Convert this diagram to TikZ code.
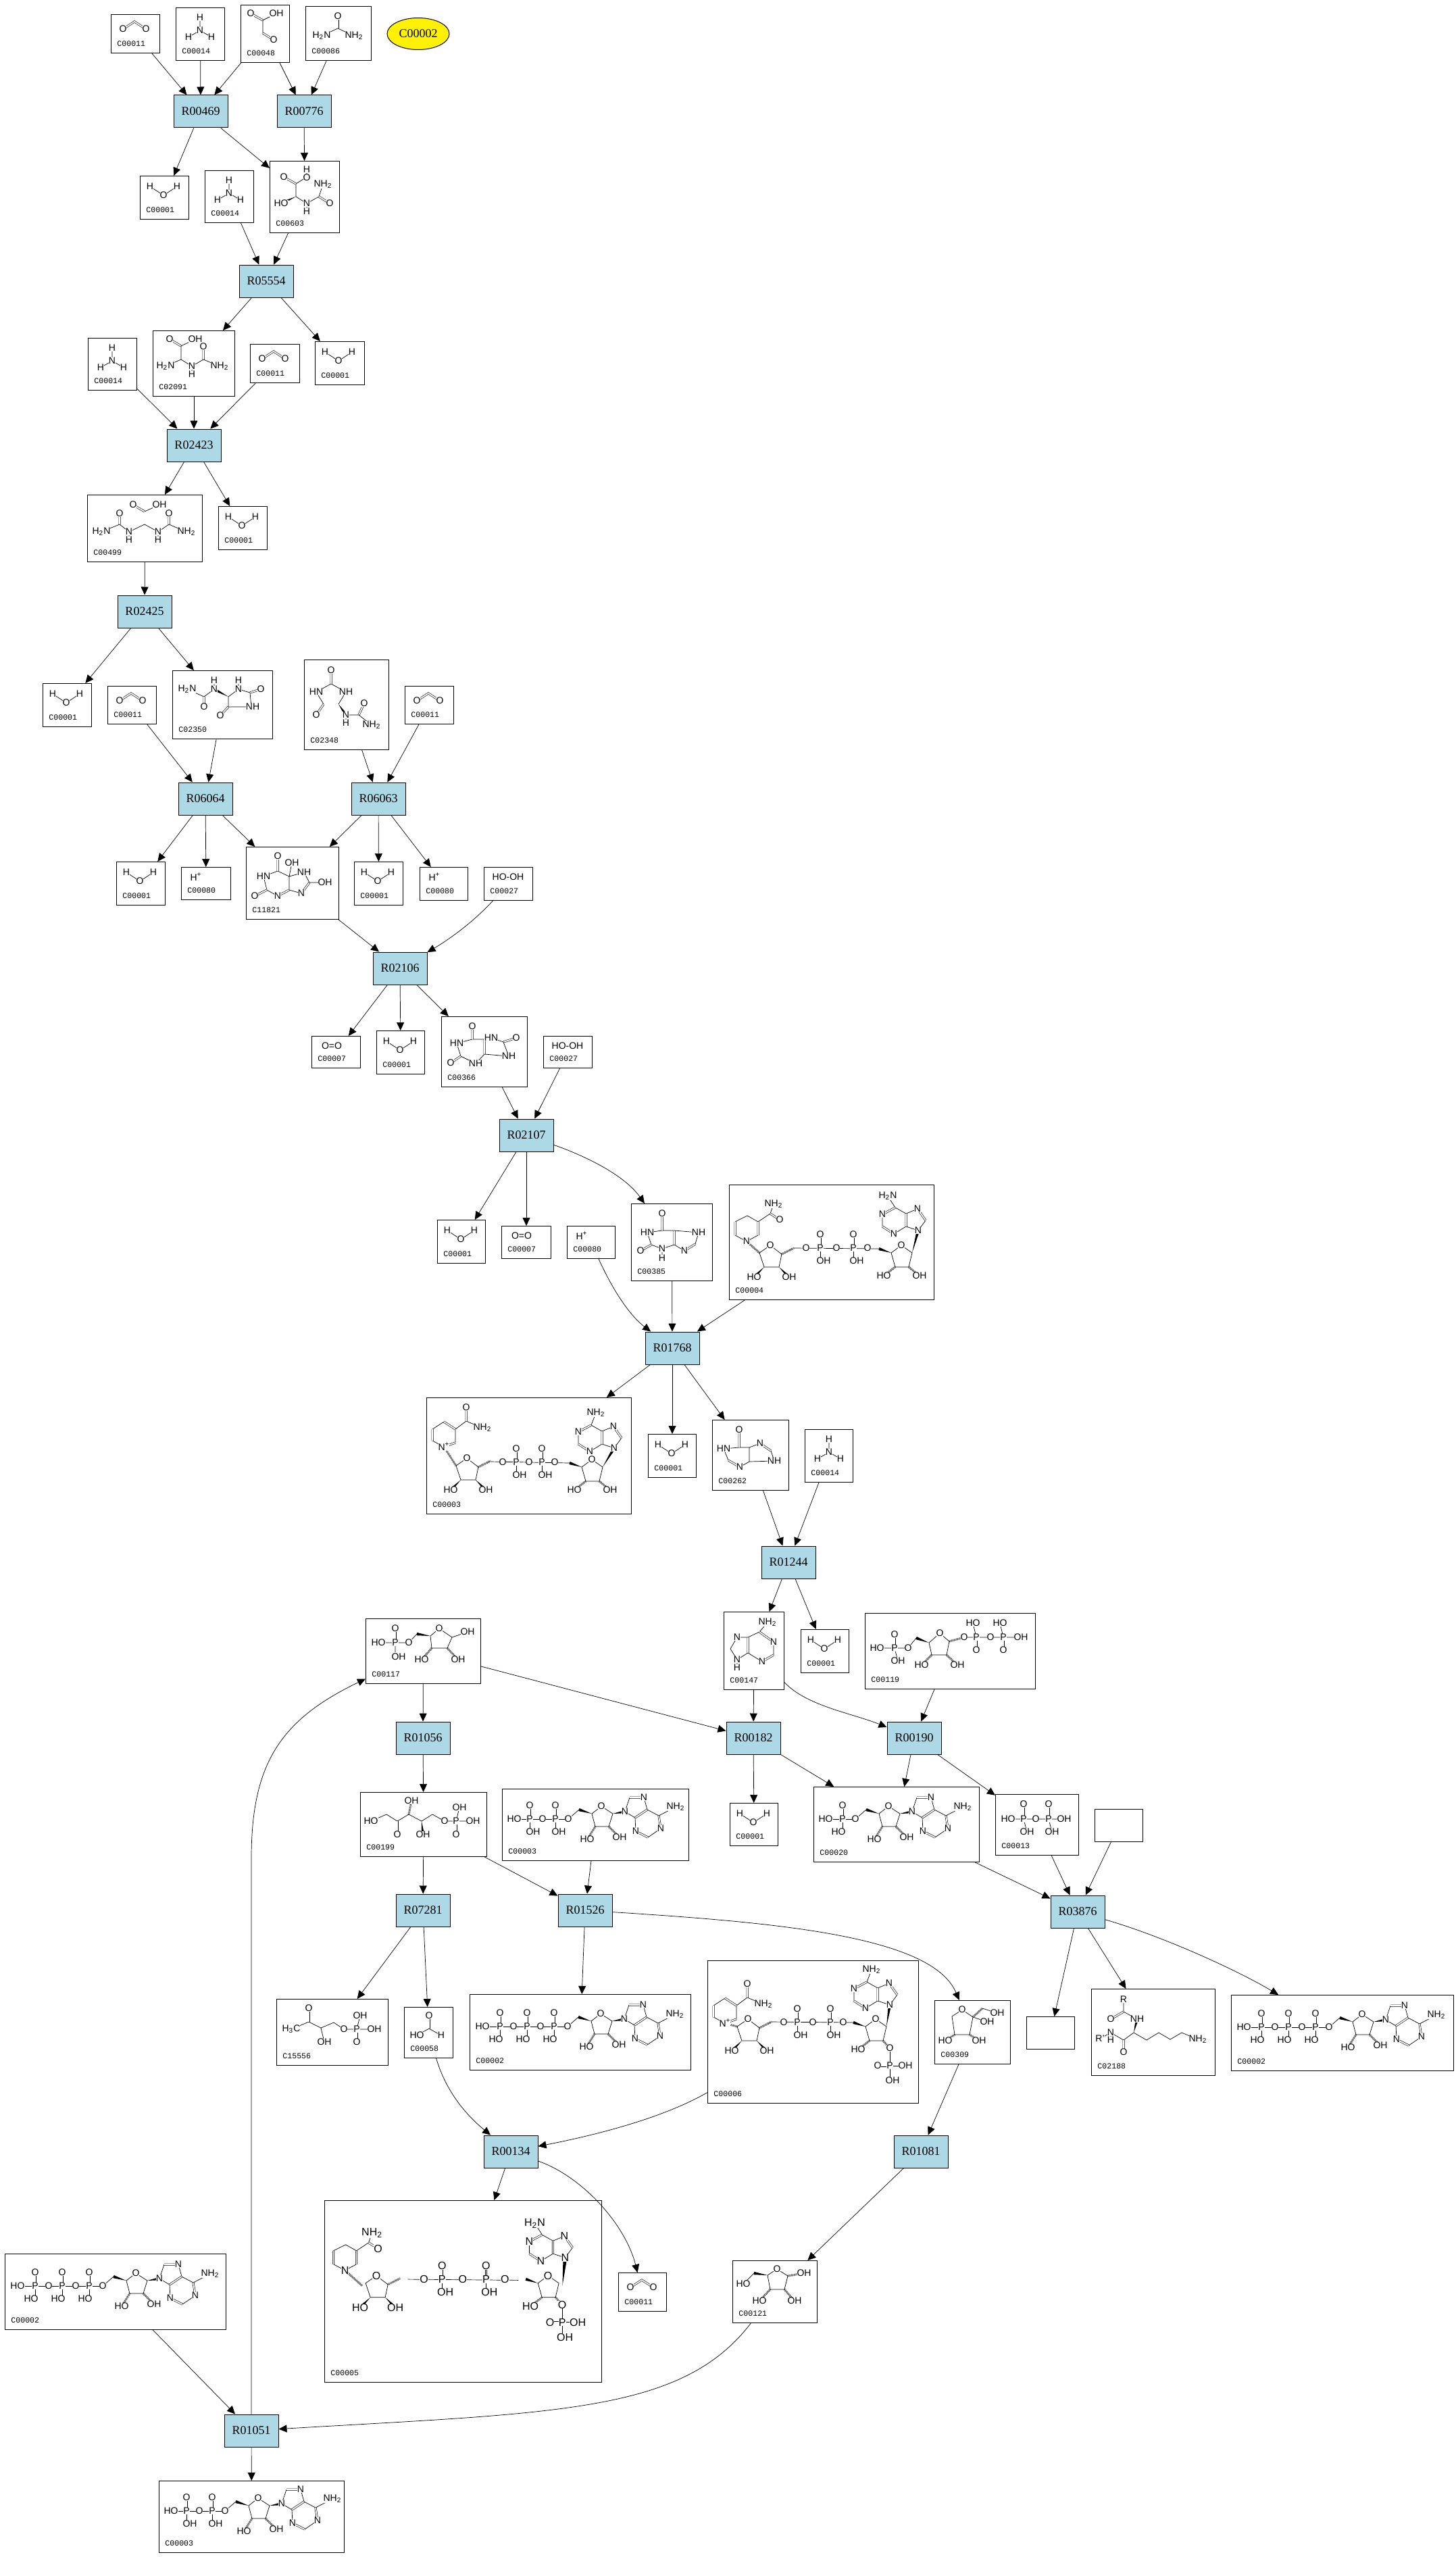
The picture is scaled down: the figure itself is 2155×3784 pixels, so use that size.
\documentclass[tikz,border=0pt]{standalone}
\usepackage{fontspec}
\setmainfont{Liberation Serif}
\setsansfont{Liberation Sans}
\setmonofont{Liberation Mono}
\usetikzlibrary{arrows.meta,calc,shapes.geometric}

\definecolor{rxnblue}{HTML}{ADD8E6}
\newcommand{\two}{\textsubscript{2}}
\newcommand{\atoms}[1]{\foreach \ax/\ay/\atxt in {#1}{\node[atm] (a\ax-\ay) at (\ax,\ay) {\atxt};}}
\newcommand{\wdg}[2]{\fill (#1) -- ($(#2)!1.1pt!90:(#1)$) -- ($(#2)!1.1pt!-90:(#1)$) -- cycle;}
\newcommand{\cboxat}[5]{\node[cbox,minimum width={(#4-#2)*.5pt},minimum height={(#5-#3)*.5pt}] (#1) at (#2,#3) {};}
\newcommand{\cmpd}[8][]{\cboxat{#2}{#3}{#4}{#5}{#6}
    \node[cid] (#2l) at ([shift={(9,-14.5)}]#2.south west) {#7};
    \pic[#1] at (#2.north west) {#8};}

\tikzset{
    atm/.style={font=\fontsize{7}{8}\selectfont\sffamily, fill=white, inner sep=0pt},
    bond/.style={line width=.35pt},
    dbl/.style={line width=.3pt, double, double distance=.9pt},
    hsh/.style={line width=1.5pt, dash pattern=on .35pt off .55pt},
    water/.pic={
        \draw[bond] (15,16) -- (35,29) -- (55,16);
        \atoms{15/16/H,35/29/O,55/16/H}
    },
    cotwo/.pic={
        \draw[dbl] (18,22) -- (35,11) -- (52,22);
        \atoms{18/22/O,52/22/O}
    },
    nhthree/.pic={
        \draw[bond] (36,15) -- (36,34) (19,44) -- (36,34) -- (53,44);
        \atoms{36/15/H,36/34/N,19/44/H,53/44/H}
    },
    hplus/.pic={\atoms{22/15/H\textsuperscript{+}}},
    oxy/.pic={\atoms{30/15/O=O}},
    perox/.pic={\atoms{36/15/HO-OH}},
    glyox/.pic={
        \draw[dbl] (15,13) -- (33,23) (33,42) -- (49,52);
        \draw[bond] (53,13) -- (33,23) -- (33,42);
        \atoms{15/13/O,53/13/OH,49/52/O}
    },
    urea/.pic={
        \draw[dbl] (48,15) -- (48,33);
        \draw[bond] (24,44) -- (48,33) -- (72,44);
        \atoms{48/15/O,24/44/H\two N,72/44/NH\two}
    },
    allant/.pic={
        \draw[bond] (55,13) -- (55,24) -- (39,34) -- (39,53) -- (55,63) -- (55,75) (55,63) -- (73,53) -- (79,35);
        \draw[dbl] (21,24) -- (39,34) (73,53) -- (89,63);
        \wdg{39,53}{17,63}
        \atoms{55/13/H,55/25/O,21/24/O,79/35/NH\two,17/63/HO,55/63/N,55/75/H,89/63/O}
    },
    ureidogly/.pic={
        \draw[dbl] (25,13) -- (42,23) (75,24) -- (75,43);
        \draw[bond] (63,13) -- (42,23) -- (42,43) -- (19,53) (42,43) -- (58,53) -- (58,64) (58,53) -- (75,43) -- (99,53);
        \atoms{25/13/O,63/13/OH,19/53/H\two N,58/53/N,58/65/H,75/24/O,99/53/NH\two}
    },
    diurea/.pic={
        \draw[dbl] (68,15) -- (85,25) (48,28) -- (48,44) (121,28) -- (121,44);
        \draw[bond] (107,15) -- (85,25);
        \draw[bond] (21,55) -- (48,44) -- (62,55) -- (85,44) -- (105,55) -- (121,44) -- (147,55) (62,55) -- (62,67) (105,55) -- (105,67);
        \atoms{68/15/O,107/15/OH,48/28/O,121/28/O,21/55/H\two N,62/55/N,62/67/H,105/55/N,105/67/H,147/55/NH\two}
    },
    hydant/.pic={
        \draw[bond] (22,28) -- (47,39) -- (62,28) -- (62,15);
        \draw[dbl] (47,39) -- (47,54) (115,33) -- (131,28) (83,54) -- (71,67);
        \wdg{83,39}{62,28}
        \draw[bond] (83,39) -- (98,28) -- (115,33) -- (117,54) -- (83,54) -- cycle (98,28) -- (98,15);
        \atoms{22/28/H\two N,47/54/O,62/28/N,62/15/H,98/28/N,98/15/H,131/28/O,119/54/NH,71/67/O}
    },
    oxoure/.pic={
        \draw[bond] (29,66) -- (18,48) -- (40,36) -- (62,48) -- (51,66);
        \draw[dbl] (40,16) -- (40,36) (29,66) -- (18,82) (81,82) -- (89,65);
        \wdg{51,66}{62,82}
        \draw[bond] (62,93) -- (62,82) -- (81,82) -- (100,97);
        \atoms{40/16/O,18/48/HN,62/48/NH,18/82/O,62/82/N,62/94/H,89/65/O,100/97/NH\two}
    },
    hydroxy/.pic={
        \draw[bond] (64,64) -- (64,44) -- (47,36) -- (26,44) -- (31,64) -- (47,73);
        \draw[dbl] (47,14) -- (47,36) (13,73) -- (31,64) (47,73) -- (64,64) (94,53) -- (82,69);
        \draw[bond] (68,24) -- (64,44) -- (86,38) -- (94,53) -- (117,53) (82,69) -- (64,64);
        \atoms{47/14/O,68/24/OH,26/44/HN,86/38/NH,117/53/OH,13/73/O,47/73/N,82/69/N}
    },
    urate/.pic={
        \draw[bond] (64,34) -- (46,34) -- (23,40) -- (29,59) -- (51,70) -- (64,56);
        \draw[dbl] (46,15) -- (46,34) (14,69) -- (29,59) (64,56) -- (64,34) (92,38) -- (111,32);
        \draw[bond] (64,34) -- (74,32) -- (92,38) -- (100,59) -- (64,56);
        \atoms{46/15/O,23/40/HN,14/69/O,51/70/NH,74/32/HN,111/32/O,100/59/NH}
    },
    xanth/.pic={
        \draw[bond] (64,40) -- (46,40) -- (24,43) -- (30,61) -- (46,67) -- (64,61) (46,67) -- (46,81);
        \draw[dbl] (46,15) -- (46,40) (14,70) -- (30,61) (64,61) -- (64,40) (95,60) -- (79,70);
        \draw[bond] (64,40) -- (100,43) -- (95,60) (79,70) -- (64,61);
        \atoms{46/15/O,24/43/HN,14/70/O,46/67/N,46/81/H,100/43/NH,79/70/N}
    },
    hypox/.pic={
        \draw[bond] (55,41) -- (40,41) -- (17,43) -- (24,60) (41,70) -- (55,62);
        \draw[dbl] (40,15) -- (40,41) (24,60) -- (41,70) (71,35) -- (87,46);
        \draw[bond] (55,62) -- (55,41) -- (71,35) (87,46) -- (92,61) -- (55,62);
        \atoms{40/15/O,17/43/HN,41/70/N,71/35/N,92/61/NH}
    },
    adenine/.pic={
        \draw[bond] (65,16) -- (53,30) -- (36,38) (36,61) -- (57,74) (74,45) -- (74,64);
        \draw[dbl] (53,30) -- (74,45) (74,64) -- (57,74) (36,38) -- (36,61);
        \draw[bond] (36,38) -- (20,38) -- (10,55) -- (20,71) -- (36,61) (20,71) -- (20,82);
        \atoms{65/16/NH\two,74/45/N,57/74/N,20/38/N,20/71/N,20/83/H}
    },
    phosl/.pic={
        \draw[dbl] (0,-20) -- (0,0);
        \draw[bond] (0,0) -- (0,15);
        \atoms{0/-20/O,0/0/P,-6/19/HO}
    },
    phosr/.pic={
        \draw[dbl] (0,-20) -- (0,0);
        \draw[bond] (0,0) -- (0,15);
        \atoms{0/-20/O,0/0/P,5/19/OH}
    },
    adenosine/.pic={
        \draw[bond] (0,0) -- (16,-14);
        \wdg{35,-8}{16,-14}
        \draw[bond] (35,-8) -- (49,-19) -- (66,-8) -- (60,11) -- (40,11) -- cycle;
        \draw[hsh] (40,11) -- (28,30) (60,11) -- (76,27);
        \wdg{66,-8}{84,-11}
        \draw[bond] (84,-11) -- (91,-32) (112,-32) -- (117,-14) (99,-2) -- (84,-11);
        \draw[dbl] (91,-32) -- (112,-32) (117,-14) -- (99,-2) (134,-5) -- (137,14) (100,18) -- (118,27);
        \draw[bond] (117,-14) -- (134,-5) -- (159,-18) (137,14) -- (118,27) (100,18) -- (99,-2);
        \atoms{0/0/O,49/-19/O,28/30/HO,76/27/OH,84/-11/N,112/-32/N,100/18/N,137/14/N,159/-18/NH\two}
    },
    atp/.pic={
        \draw[bond] (19,48) -- (145,48);
        \foreach \px in {45,85,125} {\pic at (\px,48) {phosl};}
        \pic at (145,48) {adenosine};
        \atoms{19/48/HO,65/48/O,105/48/O}
    },
    adp/.pic={
        \draw[bond] (18,45) -- (98,45);
        \foreach \px in {41,79} {\pic at (\px,45) {phosr};}
        \pic at (98,45) {adenosine};
        \atoms{18/45/HO,60/45/O}
    },
    amp/.pic={
        \draw[bond] (18,48) -- (62,48);
        \pic at (43,48) {phosl};
        \pic at (62,48) {adenosine};
        \atoms{18/48/HO}
    },
    nicrib/.pic={
        \draw[bond] (-16,11) -- (0,0) -- (17,13) -- (13,32) -- (-9,32) -- cycle;
        \wdg{-9,32}{-24,47}
        \wdg{13,32}{28,47}
        \draw[hsh] (17,13) -- (35,4);
        \atoms{0/0/O,-24/47/HO,28/47/OH}
    },
    nicred/.pic={
        \draw[bond] (-17,-9) -- (0,0) -- (17,-9) (17,-29) -- (1,-38) -- (-17,-29) (17,-29) -- (35,-41) -- (40,-55);
        \draw[dbl] (17,-9) -- (17,-29) (-17,-29) -- (-17,-9) (35,-41) -- (49,-32);
        \atoms{0/0/N,40/-55/NH\two,49/-32/O}
    },
    nicox/.pic={
        \draw[bond] (-17,-9) -- (0,0) (17,-6) -- (17,-26) (0,-37) -- (-17,-26) (17,-26) -- (33,-38) -- (57,-28);
        \draw[dbl] (0,0) -- (17,-6) (17,-26) -- (0,-37) (-17,-26) -- (-17,-9) (33,-38) -- (33,-58);
        \atoms{0/0/N\textsuperscript{+},33/-58/O,57/-28/NH\two}
    },
    ribade/.pic={
        \wdg{-15,11}{-33,5}
        \draw[bond] (-15,11) -- (0,0) -- (16,11) -- (11,32) -- (-9,32) -- cycle;
        \draw[hsh] (-9,32) -- (-26,45);
        \atoms{0/0/O,-26/45/HO}
    },
    riboh/.pic={
        \pic {ribade};
        \draw[hsh] (11,32) -- (27,45);
        \atoms{27/45/OH}
    },
    riboph/.pic={
        \pic {ribade};
        \draw[hsh] (11,32) -- (21,43);
        \draw[bond] (21,43) -- (21,91) (21,69) -- (44,69);
        \draw[dbl] (3,69) -- (21,69);
        \atoms{21/43/O,21/69/P,3/69/O,44/69/OH,25/91/OH}
    },
    adenub/.pic={
        \draw[bond] (0,0) -- (11,-15) (-1,-32) -- (-18,-25) (-18,-6) -- (0,0) (-18,-6) -- (-36,5) (-53,-6) -- (-53,-24) (-34,-34) -- (-18,-25);
        \draw[dbl] (11,-15) -- (-1,-32) (-18,-25) -- (-18,-6) (-36,5) -- (-53,-6) (-53,-24) -- (-34,-34);
        \atoms{0/0/N,-1/-32/N,-36/5/N,-53/-24/N}
    },
    adenha/.pic={
        \draw[bond] (-34,-34) -- (-45,-51);
        \pic {adenub};
        \atoms{-45/-51/H\two N}
    },
    adenhb/.pic={
        \draw[bond] (-34,-34) -- (-27,-52);
        \pic {adenub};
        \atoms{-27/-52/NH\two}
    },
    nadh/.pic={
        \draw[hsh] (45,101) -- (26,84);
        \pic at (26,84) {nicred};
        \pic at (61,90) {nicrib};
        \draw[bond] (96,94) -- (222,95);
        \foreach \px in {135,184} {\pic at (\px,94) {phosr};}
        \pic at (255,90) {riboh};
        \wdg{271,101}{280,68}
        \pic at (280,68) {adenha};
        \atoms{114/94/O,159/94/O,205/94/O}
    },
    nad/.pic={
        \draw[hsh] (44,101) -- (26,73);
        \pic at (26,73) {nicox};
        \pic at (60,90) {nicrib};
        \draw[bond] (95,95) -- (212,97);
        \foreach \px in {133,171} {\pic at (\px,96) {phosr};}
        \pic at (245,92) {riboh};
        \wdg{261,103}{278,75}
        \pic at (278,75) {adenhb};
        \atoms{113/96/O,152/96/O,190/96/O}
    },
    nadp/.pic={
        \draw[hsh] (44,98) -- (26,93);
        \pic at (26,93) {nicox};
        \pic at (60,87) {nicrib};
        \draw[bond] (95,91) -- (216,92);
        \foreach \px in {133,182} {\pic at (\px,92) {phosr};}
        \pic at (249,87) {riboph};
        \wdg{265,98}{270,66}
        \pic at (270,66) {adenhb};
        \atoms{113/92/O,156/92/O,201/92/O}
    },
    nadph/.pic={
        \draw[hsh] (42,95) -- (23,78);
        \pic at (23,78) {nicred};
        \pic at (58,84) {nicrib};
        \draw[bond] (93,88) -- (216,89);
        \foreach \px in {131,180} {\pic at (\px,88) {phosr};}
        \pic at (249,84) {riboph};
        \wdg{265,95}{268,64}
        \pic at (268,64) {adenha};
        \atoms{111/88/O,154/88/O,201/88/O}
    },
    ribfive/.pic={
        \draw[bond] (19,36) -- (64,36) -- (76,23) (44,36) -- (44,50);
        \draw[dbl] (44,15) -- (44,36);
        \wdg{96,26}{76,23}
        \draw[bond] (96,26) -- (109,15) -- (128,28) -- (121,44) -- (98,44) -- cycle (128,28) -- (151,20);
        \draw[hsh] (98,44) -- (83,61) (121,44) -- (137,61);
        \atoms{19/36/HO,44/36/P,44/15/O,49/57/OH,64/36/O,109/15/O,83/61/HO,137/61/OH,151/20/OH}
    },
    prpp/.pic={
        \draw[bond] (18,52) -- (64,52) -- (76,37) (44,52) -- (49,71);
        \draw[dbl] (44,32) -- (44,52);
        \wdg{95,44}{76,37}
        \draw[bond] (95,44) -- (111,30) -- (125,42) -- (121,62) -- (99,62) -- cycle;
        \draw[hsh] (99,62) -- (84,77) (121,62) -- (137,77) (125,42) -- (147,36);
        \draw[bond] (147,36) -- (231,36) (165,36) -- (160,15) (205,36) -- (200,15);
        \draw[dbl] (165,36) -- (165,55) (205,36) -- (205,55);
        \atoms{18/52/HO,44/52/P,44/32/O,49/71/OH,64/52/O,111/30/O,84/77/HO,137/77/OH,147/36/O,165/36/P,160/15/HO,165/55/O,186/36/O,205/36/P,200/15/HO,205/55/O,231/36/OH}
    },
    rubu/.pic={
        \draw[bond] (16,43) -- (39,33) -- (55,43) -- (72,33) -- (91,43) -- (107,33) -- (125,43) -- (167,43) (142,43) -- (147,23);
        \draw[dbl] (55,43) -- (55,63) (142,43) -- (142,63);
        \draw[hsh] (72,33) -- (76,13);
        \wdg{91,43}{93,63}
        \atoms{16/43/HO,55/63/O,76/13/OH,93/63/OH,125/43/O,142/43/P,147/23/OH,142/63/O,167/43/OH}
    },
    ppi/.pic={
        \draw[bond] (19,37) -- (102,37) (42,37) -- (47,56) (79,37) -- (84,56);
        \draw[dbl] (42,15) -- (42,37) (79,15) -- (79,37);
        \atoms{42/15/O,42/37/P,19/37/HO,47/56/OH,60/37/O,79/37/P,79/15/O,102/37/OH,84/56/OH}
    },
    ribul/.pic={
        \draw[bond] (41,14) -- (57,25) -- (52,51) -- (30,51) -- (26,24) -- cycle (71,12) -- (93,19) (57,25) -- (78,32);
        \draw[hsh] (57,25) -- (71,12) (30,51) -- (16,60) (52,51) -- (66,60);
        \atoms{41/14/O,93/19/OH,78/32/OH,16/60/HO,66/60/OH}
    },
    ribo/.pic={
        \draw[bond] (66,13) -- (82,23) -- (77,43) -- (56,43) -- (52,22) -- cycle (32,19) -- (16,35);
        \wdg{52,22}{32,19}
        \draw[hsh] (82,23) -- (106,19) (56,43) -- (40,60) (77,43) -- (92,60);
        \atoms{66/13/O,106/19/OH,16/35/HO,40/60/HO,92/60/OH}
    },
    lysine/.pic={
        \draw[bond] (48,16) -- (48,34) -- (68,45) (63,65) -- (48,76) -- (29,65) -- (13,74) (29,65) -- (29,76);
        \wdg{63,65}{68,45}
        \draw[dbl] (48,34) -- (29,45) (48,76) -- (48,94);
        \draw[bond] (63,65) -- (82,76) -- (100,65) -- (117,75) -- (134,65) -- (158,75);
        \atoms{48/16/R,29/45/O,68/45/NH,29/65/N,29/76/H,13/74/R',48/94/O,158/75/NH\two}
    },
    methyl/.pic={
        \draw[bond] (22,45) -- (48,34) -- (66,43) -- (85,35) -- (100,45) -- (145,45) (66,43) -- (71,64) (119,45) -- (124,25);
        \draw[dbl] (48,14) -- (48,34) (119,45) -- (119,64);
        \atoms{22/45/H\textsubscript{3}C,48/14/O,71/64/OH,100/45/O,119/45/P,124/25/OH,119/64/O,145/45/OH}
    },
    formate/.pic={
        \draw[dbl] (37,13) -- (37,32);
        \draw[bond] (19,42) -- (37,32) -- (55,42);
        \atoms{37/13/O,19/42/HO,55/42/H}
    }
}

\begin{document}
\begin{tikzpicture}[x=.5pt,y=-.5pt,
            rxn/.style={draw, fill=rxnblue, line width=.5pt, minimum width=40pt, minimum height=24pt, inner sep=0pt, font=\fontsize{9}{10}\selectfont},
            cbox/.style={draw, fill=white, line width=.5pt, anchor=north west, inner sep=0pt},
            cid/.style={anchor=west, inner sep=0pt, font=\fontsize{5.8}{7}\selectfont\ttfamily},
            arr/.style={-{Triangle[length=6pt,width=5.5pt]}, line width=.35pt}]

    \useasboundingbox (0,0) rectangle (2155,3784);

    \node[rxn] (r00469) at (297,165) {R00469};
    \node[rxn] (r00776) at (450,165) {R00776};
    \node[rxn] (r05554) at (394,416) {R05554};
    \node[rxn] (r02423) at (287,659) {R02423};
    \node[rxn] (r02425) at (214,905) {R02425};
    \node[rxn] (r06064) at (304,1182) {R06064};
    \node[rxn] (r06063) at (560,1182) {R06063};
    \node[rxn] (r02106) at (592,1433) {R02106};
    \node[rxn] (r02107) at (779,1680) {R02107};
    \node[rxn] (r01768) at (995,1995) {R01768};
    \node[rxn] (r01244) at (1167,2312) {R01244};
    \node[rxn] (r01056) at (626,2572) {R01056};
    \node[rxn] (r00182) at (1115,2572) {R00182};
    \node[rxn] (r00190) at (1353,2572) {R00190};
    \node[rxn] (r07281) at (626,2827) {R07281};
    \node[rxn] (r01526) at (866,2827) {R01526};
    \node[rxn] (r03876) at (1595,2829) {R03876};
    \node[rxn] (r00134) at (756,3184) {R00134};
    \node[rxn] (r01081) at (1363,3184) {R01081};
    \node[rxn] (r01051) at (372,3597) {R01051};

    \node[ellipse, draw, fill=yellow, line width=.5pt, minimum width=46pt, minimum height=23.5pt, inner sep=0pt, font=\fontsize{9}{10}\selectfont] (c00002y) at (619,50) {C00002};

    \cmpd{c00011a}{164}{21}{236}{78}{C00011}{cotwo}
    \cmpd{c00014a}{260}{11}{332}{89}{C00014}{nhthree}
    \cmpd{c00048}{356}{7}{428}{92}{C00048}{glyox}
    \cmpd{c00086}{452}{9}{549}{89}{C00086}{urea}
    \cmpd{c00001a}{207}{260}{279}{324}{C00001}{water}
    \cmpd{c00014b}{303}{252}{375}{329}{C00014}{nhthree}
    \cmpd{c00603}{399}{238}{502}{344}{C00603}{allant}
    \cmpd{c02091}{226}{489}{347}{586}{C02091}{ureidogly}
    \cmpd{c00014c}{130}{500}{202}{577}{C00014}{nhthree}
    \cmpd{c00011b}{370}{509}{443}{566}{C00011}{cotwo}
    \cmpd{c00001b}{466}{505}{539}{569}{C00001}{water}
    \cmpd{c00499}{129}{732}{299}{831}{C00499}{diurea}
    \cmpd{c00001c}{323}{749}{395}{813}{C00001}{water}
    \cmpd{c00001d}{63}{1011}{135}{1075}{C00001}{water}
    \cmpd{c00011c}{159}{1015}{231}{1071}{C00011}{cotwo}
    \cmpd{c02350}{255}{992}{403}{1093}{C02350}{hydant}
    \cmpd{c02348}{450}{976}{575}{1109}{C02348}{oxoure}
    \cmpd{c00011d}{599}{1015}{671}{1071}{C00011}{cotwo}
    \cmpd{c00001e}{172}{1275}{244}{1339}{C00001}{water}
    \cmpd{c00080a}{268}{1283}{341}{1331}{C00080}{hplus}
    \cmpd{c11821}{364}{1253}{501}{1360}{C11821}{hydroxy}
    \cmpd{c00001f}{524}{1275}{596}{1339}{C00001}{water}
    \cmpd{c00080b}{621}{1283}{692}{1332}{C00080}{hplus}
    \cmpd{c00027a}{716}{1283}{788}{1332}{C00027}{perox}
    \cmpd{c00007a}{461}{1533}{533}{1580}{C00007}{oxy}
    \cmpd{c00001g}{557}{1525}{628}{1589}{C00001}{water}
    \cmpd{c00366}{653}{1504}{780}{1608}{C00366}{urate}
    \cmpd{c00027b}{804}{1533}{876}{1580}{C00027}{perox}
    \cmpd{c00001h}{647}{1805}{718}{1869}{C00001}{water}
    \cmpd{c00007b}{742}{1814}{815}{1862}{C00007}{oxy}
    \cmpd{c00080c}{839}{1814}{910}{1862}{C00080}{hplus}
    \cmpd{c00385}{934}{1781}{1054}{1895}{C00385}{xanth}
    \cmpd{c00004}{1079}{1753}{1382}{1923}{C00004}{nadh}
    \cmpd{c00003a}{631}{2068}{934}{2240}{C00003}{nad}
    \cmpd{c00001i}{959}{2122}{1030}{2186}{C00001}{water}
    \cmpd{c00262}{1054}{2101}{1167}{2205}{C00262}{hypox}
    \cmpd{c00014d}{1191}{2115}{1262}{2193}{C00014}{nhthree}
    \cmpd{c00147}{1071}{2385}{1160}{2500}{C00147}{adenine}
    \cmpd{c00001j}{1185}{2411}{1256}{2475}{C00001}{water}
    \cmpd{c00119}{1280}{2387}{1532}{2499}{C00119}{prpp}
    \cmpd{c00117}{541}{2395}{711}{2491}{C00117}{ribfive}
    \cmpd{c00199}{533}{2652}{720}{2747}{C00199}{rubu}
    \cmpd{c00003b}{743}{2647}{1019}{2753}{C00003}{adp}
    \cmpd{c00001k}{1080}{2668}{1151}{2731}{C00001}{water}
    \cmpd{c00020}{1204}{2644}{1449}{2755}{C00020}{amp}
    \cmpd{c00013}{1473}{2655}{1596}{2745}{C00013}{ppi}
    \cboxat{blanka}{1620}{2677}{1691}{2725}
    \cmpd{c15556}{409}{2958}{574}{3056}{C15556}{methyl}
    \cmpd{c00058}{598}{2970}{670}{3045}{C00058}{formate}
    \cmpd{c00002a}{695}{2951}{1022}{3063}{C00002}{atp}
    \cmpd{c00006}{1047}{2901}{1359}{3112}{C00006}{nadp}
    \cmpd{c00309}{1383}{2960}{1495}{3054}{C00309}{ribul}
    \cboxat{blankb}{1519}{2984}{1590}{3032}
    \cmpd{c02188}{1615}{2943}{1798}{3071}{C02188}{lysine}
    \cmpd{c00002b}{1822}{2952}{2151}{3064}{C00002}{atp}
    \cmpd[scale=1.33,atm/.append style={font=\fontsize{8}{9}\selectfont\sffamily}]{c00005}{480}{3256}{890}{3525}{C00005}{nadph}
    \cmpd{c00011e}{915}{3363}{986}{3420}{C00011}{cotwo}
    \cmpd{c00121}{1084}{3345}{1209}{3437}{C00121}{ribo}
    \cmpd{c00002c}{7}{3335}{334}{3447}{C00002}{atp}
    \cmpd{c00003c}{235}{3671}{509}{3777}{C00003}{adp}

    \draw[arr] (c00011a) -- (r00469);
    \draw[arr] (c00014a) -- (r00469);
    \draw[arr] (c00048) -- (r00469);
    \draw[arr] (c00048) -- (r00776);
    \draw[arr] (c00086) -- (r00776);
    \draw[arr] (r00469) -- (c00001a);
    \draw[arr] (r00469) -- (c00603);
    \draw[arr] (r00776) -- (c00603);
    \draw[arr] (c00014b) -- (r05554);
    \draw[arr] (c00603) -- (r05554);
    \draw[arr] (r05554) -- (c02091);
    \draw[arr] (r05554) -- (c00001b);
    \draw[arr] (c00014c) -- (r02423);
    \draw[arr] (c02091) -- (r02423);
    \draw[arr] (c00011b) -- (r02423);
    \draw[arr] (r02423) -- (c00499);
    \draw[arr] (r02423) -- (c00001c);
    \draw[arr] (c00499) -- (r02425);
    \draw[arr] (r02425) -- (c00001d);
    \draw[arr] (r02425) -- (c02350);
    \draw[arr] (c00011c) -- (r06064);
    \draw[arr] (c02350) -- (r06064);
    \draw[arr] (c02348) -- (r06063);
    \draw[arr] (c00011d) -- (r06063);
    \draw[arr] (r06064) -- (c00001e);
    \draw[arr] (r06064) -- (c00080a);
    \draw[arr] (r06064) -- (c11821);
    \draw[arr] (r06063) -- (c11821);
    \draw[arr] (r06063) -- (c00001f);
    \draw[arr] (r06063) -- (c00080b);
    \draw[arr] (c11821) -- (r02106);
    \draw[arr] (c00027a) .. controls (700,1365) and (665,1390) .. (r02106);
    \draw[arr] (r02106) -- (c00007a);
    \draw[arr] (r02106) -- (c00001g);
    \draw[arr] (r02106) -- (c00366);
    \draw[arr] (c00366) -- (r02107);
    \draw[arr] (c00027b) -- (r02107);
    \draw[arr] (r02107) -- (c00001h);
    \draw[arr] (r02107) -- (c00007b);
    \draw[arr] (r02107) .. controls (870,1712) and (925,1740) .. (c00385);
    \draw[arr] (c00080c) .. controls (905,1905) and (930,1945) .. (r01768);
    \draw[arr] (c00385) -- (r01768);
    \draw[arr] (c00004) -- (r01768);
    \draw[arr] (r01768) -- (c00003a);
    \draw[arr] (r01768) -- (c00001i);
    \draw[arr] (r01768) -- (c00262);
    \draw[arr] (c00262) -- (r01244);
    \draw[arr] (c00014d) -- (r01244);
    \draw[arr] (r01244) -- (c00147);
    \draw[arr] (r01244) -- (c00001j);
    \draw[arr] (c00147) -- (r00182);
    \draw[arr] (c00147) .. controls (1195,2525) and (1260,2535) .. (r00190);
    \draw[arr] (c00119) -- (r00190);
    \draw[arr] (c00117) -- (r00182);
    \draw[arr] (c00117) -- (r01056);
    \draw[arr] (r01056) -- (c00199);
    \draw[arr] (r00182) -- (c00001k);
    \draw[arr] (r00182) -- (c00020);
    \draw[arr] (r00190) -- (c00020);
    \draw[arr] (r00190) -- (c00013);
    \draw[arr] (c00199) -- (r07281);
    \draw[arr] (c00199) -- (r01526);
    \draw[arr] (c00003b) -- (r01526);
    \draw[arr] (c00020) -- (r03876);
    \draw[arr] (c00013) -- (r03876);
    \draw[arr] (blanka) -- (r03876);
    \draw[arr] (r03876) -- (blankb);
    \draw[arr] (r03876) -- (c02188);
    \draw[arr] (r03876) .. controls (1720,2865) and (1830,2915) .. (c00002b);
    \draw[arr] (r07281) -- (c15556);
    \draw[arr] (r07281) -- (c00058);
    \draw[arr] (r01526) -- (c00002a);
    \draw[arr] (r01526) .. controls (1150,2845) and (1380,2865) .. (c00309);
    \draw[arr] (c00058) .. controls (660,3095) and (690,3130) .. (r00134);
    \draw[arr] (c00006) .. controls (980,3135) and (880,3160) .. (r00134);
    \draw[arr] (c00309) -- (r01081);
    \draw[arr] (r00134) -- (c00005);
    \draw[arr] (r00134) .. controls (860,3220) and (925,3290) .. (c00011e);
    \draw[arr] (r01081) -- (c00121);
    \draw[arr] (c00121) .. controls (1010,3570) and (830,3570) .. (r01051);
    \draw[arr] (c00002c) -- (r01051);
    \draw[arr] (r01051) -- (c00003c);
    \draw[arr] (r01051.north) -- (372,2750) .. controls (372,2610) and (415,2545) .. (c00117);
\end{tikzpicture}
\end{document}
